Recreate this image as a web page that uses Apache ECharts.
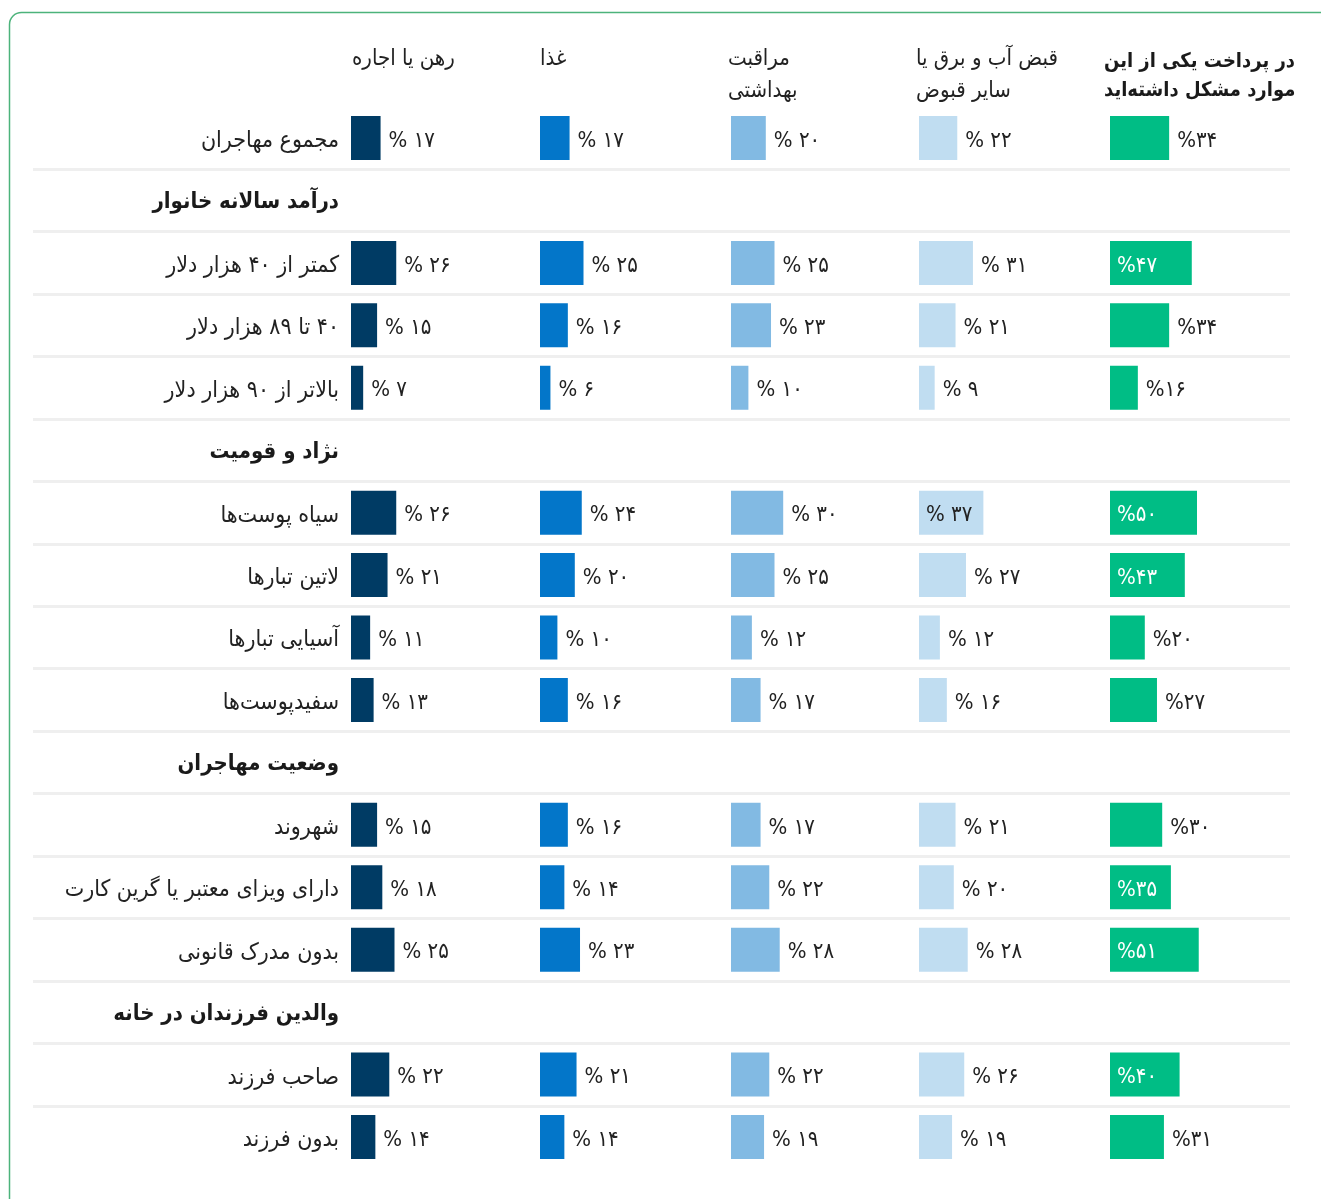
<!DOCTYPE html>
<html>
<head>
<meta charset="utf-8">
<script src="https://cdn.jsdelivr.net/npm/echarts@6/dist/echarts.min.js"></script>
<style>html,body{margin:0;padding:0;background:#fff;}#chart{width:1321px;height:1199px;}</style>
</head>
<body>
<div id="chart"></div>
<script>
// ---- data ----
const categories = [
  'مجموع مهاجران',
  'درآمد سالانه خانوار',
  'کمتر از ۴۰ هزار دلار',
  '۴۰ تا ۸۹ هزار دلار',
  'بالاتر از ۹۰ هزار دلار',
  'نژاد و قومیت',
  'سیاه پوست‌ها',
  'لاتین تبارها',
  'آسیایی تبارها',
  'سفیدپوست‌ها',
  'وضعیت مهاجران',
  'شهروند',
  'دارای ویزای معتبر یا گرین کارت',
  'بدون مدرک قانونی',
  'والدین فرزندان در خانه',
  'صاحب فرزند',
  'بدون فرزند'
];
const sectionHeaders = ['درآمد سالانه خانوار', 'نژاد و قومیت', 'وضعیت مهاجران', 'والدین فرزندان در خانه'];
const columnNames = ['رهن یا اجاره', 'غذا', 'مراقبت\nبهداشتی', 'قبض آب و برق یا\nسایر قبوض', 'در پرداخت یکی از این\nموارد مشکل داشته‌اید'];

const mortgage = [17, null, 26, 15, 7, null, 26, 21, 11, 13, null, 15, 18, 25, null, 22, 14];
const food     = [17, null, 25, 16, 6, null, 24, 20, 10, 16, null, 16, 14, 23, null, 21, 14];
const health   = [20, null, 25, 23, 10, null, 30, 25, 12, 17, null, 17, 22, 28, null, 22, 19];
const bills    = [22, null, 31, 21, 9, null, 37, 27, 12, 16, null, 21, 20, 28, null, 26, 19];
const anyOne   = [34, null, 47, 34, 16, null, 50, 43, 20, 27, null, 30, 35, 51, null, 40, 31];

// ---- layout / style ----
const FONT = '"DejaVu Sans Condensed", "DejaVu Sans", sans-serif';
const seriesValues = [mortgage, food, health, bills, anyOne];
const colors = ['#003b64', '#0376c9', '#82bae3', '#c0ddf1', '#00bd85'];
const colLeft = [351, 540, 731, 919, 1110];
const headerX = [352, 540, 728, 916, 1104];
const GRID_TOP = 106.8, GRID_H = 1061.4, SCALE_W = 174;
const INSIDE_MIN = 35;

const faDigits = '۰۱۲۳۴۵۶۷۸۹';
const toFa = n => String(n).replace(/[0-9]/g, d => faDigits[+d]);

const grids = [], xAxes = [], yAxes = [], series = [];
for (let i = 0; i < 5; i++) {
  grids.push({left: colLeft[i], top: GRID_TOP, width: SCALE_W, height: GRID_H});
  xAxes.push({type: 'value', gridIndex: i, min: 0, max: 100, show: false});
  yAxes.push({
    type: 'category', gridIndex: i, data: categories, inverse: true,
    axisLine: {show: false}, axisTick: {show: false}, splitLine: {show: false},
    axisLabel: i === 0 ? {
      show: true, interval: 0, margin: 12,
      formatter: v => (sectionHeaders.indexOf(v) >= 0 ? '{h|\u200f' + v + '}' : '{n|\u200f' + v + '}'),
      rich: {
        h: {fontSize: 22, fontWeight: 'bold', color: '#1a1a1a', fontFamily: FONT, padding: [4, 0, 0, 0]},
        n: {fontSize: 23, color: '#222', fontFamily: FONT, padding: [6, 0, 0, 0]}
      }
    } : {show: false}
  });
  const vals = seriesValues[i];
  series.push({
    type: 'bar', xAxisIndex: i, yAxisIndex: i, barWidth: 44,
    itemStyle: {color: colors[i]},
    label: {
      show: true, position: 'right', distance: 8, offset: [0, 3],
      fontSize: 22, fontFamily: FONT, color: '#222',
      formatter: p => (i === 4 ? '%' : '% ') + toFa(p.value)
    },
    data: vals.map(v => {
      if (v == null) return '-';
      if (v >= INSIDE_MIN) {
        return {value: v, label: {position: 'insideLeft', distance: 7, color: i === 4 ? '#ffffff' : '#222'}};
      }
      return v;
    })
  });
}
// separator grid
grids.push({left: 33, right: 31, top: GRID_TOP, height: GRID_H});
xAxes.push({type: 'value', gridIndex: 5, min: 0, max: 1, show: false});
const sepColors = [];
for (let k = 0; k <= categories.length; k++) {
  sepColors.push(k === 0 || k === categories.length ? 'rgba(0,0,0,0)' : '#efefef');
}
yAxes.push({
  type: 'category', gridIndex: 5, data: categories, inverse: true,
  axisLine: {show: false}, axisTick: {show: false}, axisLabel: {show: false},
  splitLine: {show: true, interval: 0, lineStyle: {color: sepColors, width: 3}}
});

const graphics = [{
  type: 'rect', z: -10,
  shape: {x: 9.5, y: 12.5, width: 1340, height: 1230, r: 12},
  style: {fill: 'none', stroke: '#4cb37b', lineWidth: 1.5}
}];
columnNames.forEach((name, i) => {
  const bold = i === 4;
  graphics.push({
    type: 'text',
    style: {
      text: name.split('\n').map(s => '\u200f' + s).join('\n'),
      x: headerX[i], y: bold ? 47 : 43,
      align: 'left', verticalAlign: 'top',
      fontSize: bold ? 20 : 22, fontWeight: bold ? 'bold' : 'normal',
      fontFamily: FONT, fill: bold ? '#1a1a1a' : '#222', lineHeight: bold ? 29 : 32
    }
  });
});

const chart = echarts.init(document.getElementById('chart'), null, {renderer: 'canvas'});
chart.setOption({
  backgroundColor: '#fff',
  animation: false,
  grid: grids, xAxis: xAxes, yAxis: yAxes, series: series,
  graphic: graphics
});
</script>
</body>
</html>
